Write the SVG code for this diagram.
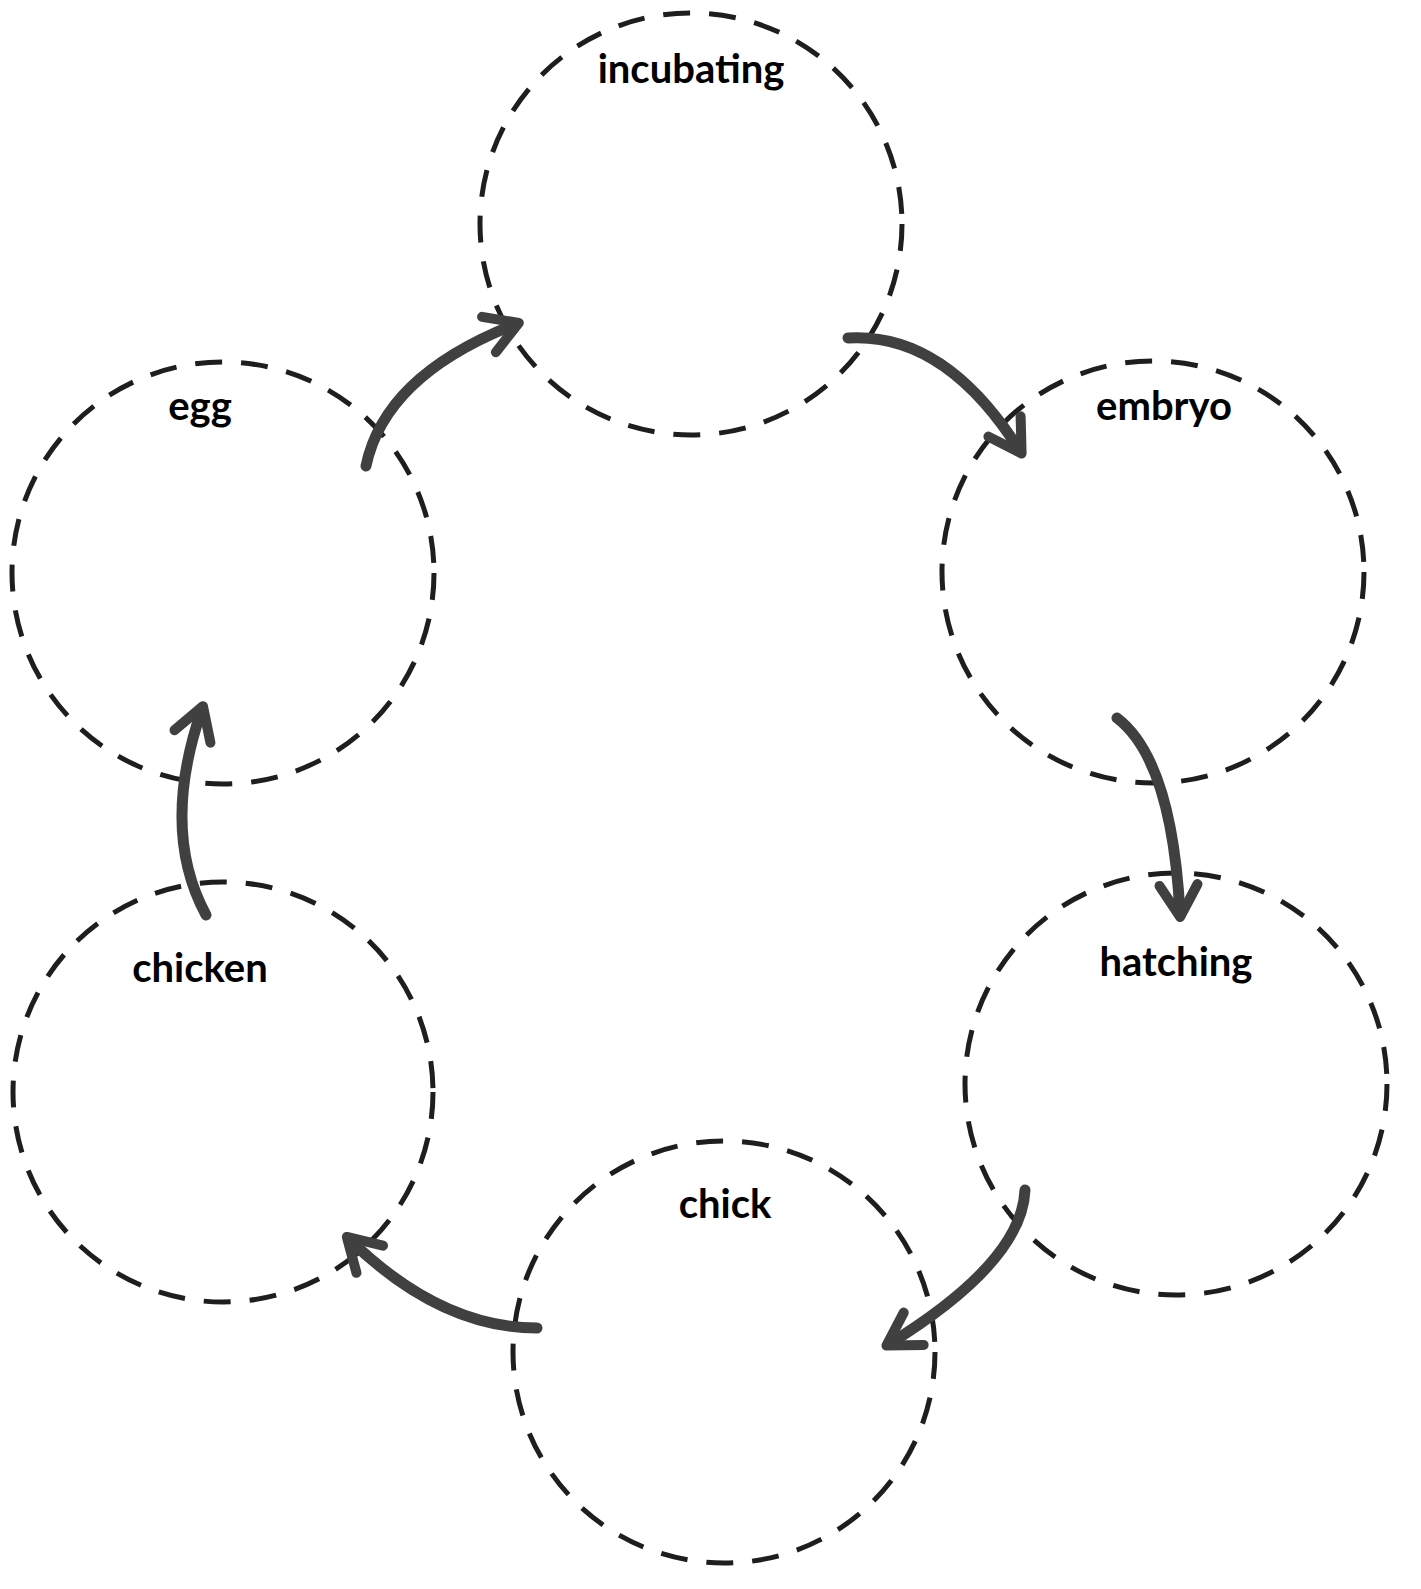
<svg xmlns="http://www.w3.org/2000/svg" width="1421" height="1589" viewBox="0 0 1421 1589">
<style>
.ring{fill:none;stroke:#1e1e1e;stroke-width:5;stroke-dasharray:27 19}
.lbl{font-family:"Lato","Liberation Sans",sans-serif;font-size:40px;font-weight:bold;fill:#000;text-anchor:middle}
.arr{fill:none;stroke:#404040;stroke-width:11;stroke-linecap:round;marker-end:url(#ah)}
</style>
<defs>
<marker id="ah" markerUnits="userSpaceOnUse" markerWidth="70" markerHeight="70" refX="0" refY="0" viewBox="-45 -35 60 70" orient="auto">
<path d="M-29,-19 L3,0 L-29,19" fill="none" stroke="#404040" stroke-width="10" stroke-linecap="round" stroke-linejoin="round"/>
</marker>
</defs>
<rect width="1421" height="1589" fill="#fff"/>
<g id="incubating"><circle class="ring" cx="691" cy="224" r="211"/><text class="lbl" x="691" y="83">incubating</text></g>
<g id="egg"><circle class="ring" cx="223" cy="573" r="211"/><text class="lbl" x="200" y="420">egg</text></g>
<g id="embryo"><circle class="ring" cx="1153" cy="572" r="211"/><text class="lbl" x="1164" y="420">embryo</text></g>
<g id="hatching"><circle class="ring" cx="1176" cy="1084" r="211"/><text class="lbl" x="1176" y="976">hatching</text></g>
<g id="chick"><circle class="ring" cx="724" cy="1352" r="211"/><text class="lbl" x="725" y="1218">chick</text></g>
<g id="chicken"><circle class="ring" cx="223" cy="1092" r="210"/><text class="lbl" x="200" y="982">chicken</text></g>
<g id="connectors">
<path class="arr" d="M366,466 Q385,375 516,324"/>
<path class="arr" d="M848,338 Q945,332 1020,451"/>
<path class="arr" d="M1117,718 Q1172,760 1180,914"/>
<path class="arr" d="M1025,1190 Q1022,1262 889,1344"/>
<path class="arr" d="M537,1328 Q440,1328 349,1239"/>
<path class="arr" d="M206,915 Q160,830 202,709"/>
</g>
</svg>
